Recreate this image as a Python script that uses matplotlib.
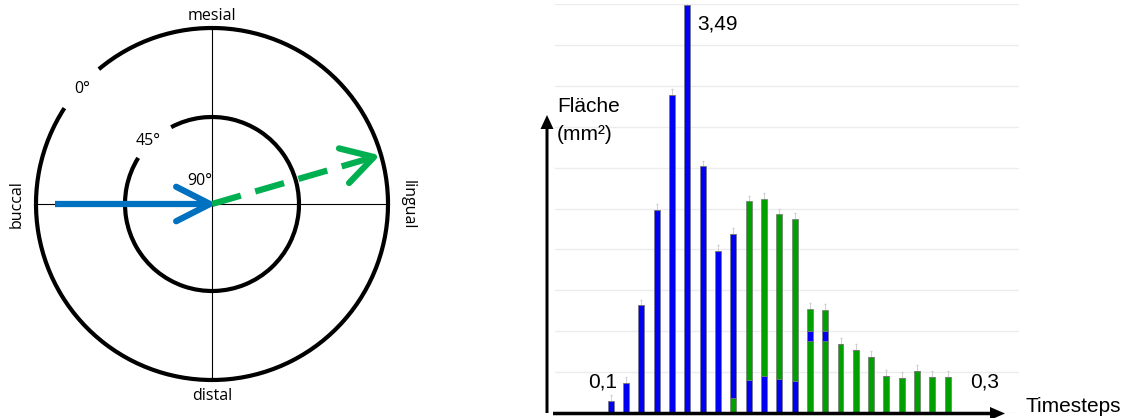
#!/usr/bin/env python3
# -*- coding: utf-8 -*-
"""
Two-panel figure: tooth orientation diagram (left) and stacked area per
timestep bar chart (right). Saves out.png at 1126x418 px.
"""

import matplotlib

matplotlib.use("Agg")
import matplotlib.pyplot as plt
import numpy as np
from matplotlib.patches import Arc, FancyArrow

W_PX, H_PX, DPI = 1126, 418, 100

# ---- data (right panel) ----
timesteps = np.arange(1, 24)
green_low = [0, 0, 0, 0, 0, 0, 0, 0, 0.13, 0, 0, 0, 0, 0.62, 0.62,
             0.59, 0.54, 0.48, 0.32, 0.30, 0.36, 0.31, 0.31]
blue_mid = [0.10, 0.26, 0.92, 1.74, 2.72, 3.49, 2.11, 1.39, 1.40, 0.28, 0.32,
            0.29, 0.27, 0.08, 0.08, 0, 0, 0, 0, 0, 0, 0, 0]
green_high = [0, 0, 0, 0, 0, 0, 0, 0, 0, 1.53, 1.51, 1.41, 1.39, 0.19, 0.18,
              0, 0, 0, 0, 0, 0, 0, 0]
value_labels = [("0,1", 1), ("3,49", 6), ("0,3", 23)]

# ---- labels (left panel) ----
direction_labels = ["mesial", "distal", "buccal", "lingual"]
angle_labels = ["0°", "45°", "90°"]

BAR_BLUE = "#0000f2"
BAR_GREEN = "#00a000"
ARR_BLUE = "#0070c0"
ARR_GREEN = "#00b050"


def chevron(ax, tip, angle_deg, color, length=36, spread=27, lw=4.5):
    back = np.deg2rad(angle_deg + 180)
    pts = []
    for s in (spread, -spread):
        a = back + np.deg2rad(s)
        pts.append((tip[0] + length * np.cos(a), tip[1] + length * np.sin(a)))
    xs = [pts[0][0], tip[0], pts[1][0]]
    ys = [pts[0][1], tip[1], pts[1][1]]
    ax.plot(xs, ys, color=color, lw=lw, solid_capstyle="round",
            solid_joinstyle="round", zorder=5)


fig = plt.figure(figsize=(W_PX / DPI, H_PX / DPI), dpi=DPI)

# ---------------- right panel: bars ----------------
step_px = 15.32
first_px = 610.7
left_px, right_px = 555, 1019
x0 = 1 + (left_px - first_px) / step_px
x1 = 1 + (right_px - first_px) / step_px
base_px, top_px = 413, 4
ax = fig.add_axes([left_px / W_PX, (H_PX - base_px) / H_PX,
                   (right_px - left_px) / W_PX, (base_px - top_px) / H_PX])
ax.set_xlim(x0, x1)
ax.set_ylim(0, 3.5)
for g in np.arange(0.35, 3.51, 0.35):
    ax.axhline(g, color="#ececec", lw=1.0, zorder=0)
ax.axhline(0, color="#f0b4b4", lw=0.8, zorder=0)

bw = 0.39
gl = np.array(green_low)
bm = np.array(blue_mid)
gh = np.array(green_high)
edge = dict(edgecolor="#777777", linewidth=0.5)
ax.bar(timesteps, gl, bw, color=BAR_GREEN, zorder=2, **edge)
ax.bar(timesteps, bm, bw, bottom=gl, color=BAR_BLUE, zorder=2, **edge)
ax.bar(timesteps, gh, bw, bottom=gl + bm, color=BAR_GREEN, zorder=2, **edge)
totals = gl + bm + gh
ax.errorbar(timesteps, totals, yerr=[np.zeros_like(totals), np.full_like(totals, 0.05)],
            fmt="none", ecolor="#cfcfcf", elinewidth=0.7, capsize=1.0, zorder=1)

for txt, idx in value_labels:
    if idx == 6:
        ax.text(idx + 0.63, 3.28, txt, ha="left", va="baseline",
                family="Liberation Sans", fontsize=15)
    else:
        xoff = -1.48 if idx == 1 else 1.45
        ax.text(idx + xoff, 0.22, txt, ha="left", va="baseline",
                family="Liberation Sans", fontsize=15)
ax.axis("off")

# ---------------- overlay in pixel coords ----------------
ov = fig.add_axes([0, 0, 1, 1])
ov.set_xlim(0, W_PX)
ov.set_ylim(0, H_PX)
ov.axis("off")
ov.patch.set_alpha(0)

# axis arrows of the bar chart
ov.add_patch(FancyArrow(547, 5, 0, 298, width=3, head_width=13, head_length=14,
                        length_includes_head=True, color="black", lw=0))
ov.add_patch(FancyArrow(553, 4.5, 452, 0, width=3.5, head_width=13, head_length=15,
                        length_includes_head=True, color="black", lw=0))
ov.text(557, 306, "Fläche", family="Liberation Sans", fontsize=15, va="baseline")
ov.text(557, 278, "(mm²)", family="Liberation Sans", fontsize=15, va="baseline")
ov.text(1025, 6, "Timesteps", family="Liberation Sans", fontsize=15, va="baseline")

# ---------------- left panel: orientation diagram ----------------
cx, cy = 212, 214
r_out, r_in = 176, 87
ov.plot([cx - r_out, cx + r_out], [cy, cy], color="black", lw=0.8, zorder=1)
ov.plot([cx, cx], [cy - r_out, cy + r_out], color="black", lw=0.8, zorder=1)
ov.add_patch(Arc((cx, cy), 2 * r_out, 2 * r_out, theta1=147, theta2=490,
                 color="black", lw=3))
ov.add_patch(Arc((cx, cy), 2 * r_in, 2 * r_in, theta1=148, theta2=478,
                 color="black", lw=3))

lab_font = dict(family="Open Sans", fontsize=11.5, color="black")
ov.text(cx, 402, direction_labels[0], ha="center", va="center", **lab_font)
ov.text(cx, 22, direction_labels[1], ha="center", va="center", **lab_font)
ov.text(17, cy, direction_labels[2], ha="center", va="center", rotation=90, **lab_font)
ov.text(408, cy - 1, direction_labels[3], ha="center", va="center", rotation=-90, **lab_font)
ov.text(82, 329, angle_labels[0], ha="center", va="center", **lab_font)
ov.text(148, 277, angle_labels[1], ha="center", va="center", **lab_font)
ov.text(200, 237, angle_labels[2], ha="center", va="center", **lab_font)

# blue arrow (solid)
ov.plot([55, 208], [cy, cy], color=ARR_BLUE, lw=4.5, solid_capstyle="butt", zorder=5)
chevron(ov, (210, cy), 0, ARR_BLUE, length=38)

# green arrow (dashed)
tip = (374, 261)
ang = np.degrees(np.arctan2(tip[1] - cy, tip[0] - cx))
ov.plot([cx, tip[0] - 4], [cy, tip[1] - 4 * np.tan(np.deg2rad(ang))], color=ARR_GREEN,
        lw=4.5, linestyle=(0, (4.8, 2.4)), dash_capstyle="butt", zorder=5)
chevron(ov, tip, ang, ARR_GREEN, length=36, spread=30)

fig.savefig("out.png", dpi=DPI)
